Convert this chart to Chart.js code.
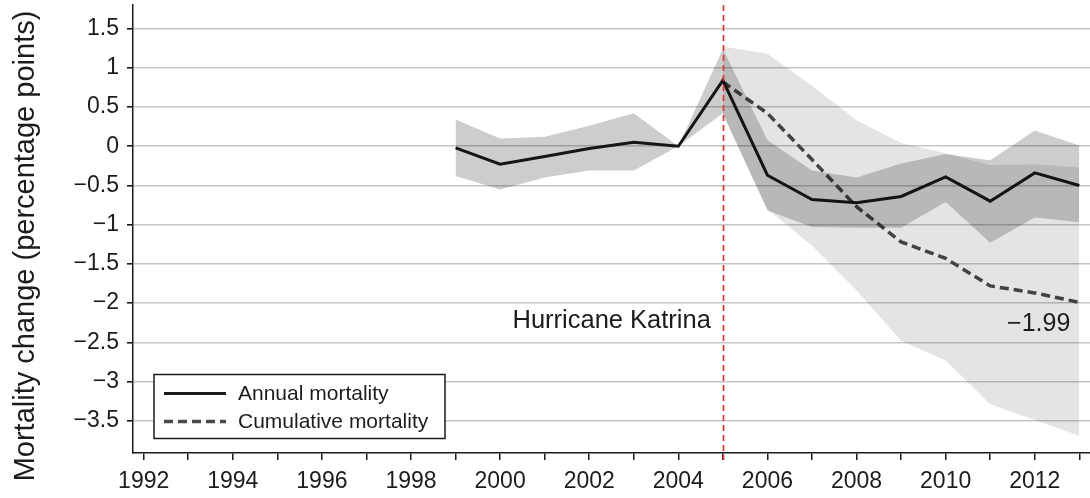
<!DOCTYPE html>
<html>
<head>
<meta charset="utf-8">
<script src="https://cdn.jsdelivr.net/npm/chart.js@4.4.1/dist/chart.umd.min.js"></script>
<style>
  html, body { margin: 0; padding: 0; background: #ffffff; }
  canvas { display: block; }
</style>
</head>
<body>
<canvas id="chart" width="1090" height="498"></canvas>
<script>
// Annual mortality change relative to 2004, with confidence band
const annualYears  = [1999, 2000, 2001, 2002, 2003, 2004, 2005, 2006, 2007, 2008, 2009, 2010, 2011, 2012, 2013];
const annualValues = [-0.02, -0.23, -0.13, -0.03, 0.05, 0.00, 0.84, -0.37, -0.68, -0.72, -0.64, -0.39, -0.70, -0.34, -0.50];
const annualUpper  = [0.34, 0.10, 0.12, 0.26, 0.42, 0.00, 1.24, 0.08, -0.31, -0.40, -0.22, -0.10, -0.18, 0.20, 0.01];
const annualLower  = [-0.38, -0.55, -0.40, -0.31, -0.31, 0.00, 0.42, -0.82, -1.03, -1.04, -1.04, -0.71, -1.23, -0.91, -0.97];

// Cumulative mortality change since Katrina, with confidence band
const cumYears  = [2005, 2006, 2007, 2008, 2009, 2010, 2011, 2012, 2013];
const cumValues = [0.82, 0.42, -0.17, -0.77, -1.22, -1.43, -1.78, -1.87, -1.99];
const cumUpper  = [1.27, 1.18, 0.77, 0.33, 0.04, -0.09, -0.24, -0.23, -0.27];
const cumLower  = [0.40, -0.80, -1.27, -1.84, -2.48, -2.73, -3.29, -3.49, -3.69];

// Axis ticks
const xTickYears  = [1992, 1993, 1994, 1995, 1996, 1997, 1998, 1999, 2000, 2001, 2002, 2003, 2004, 2005, 2006, 2007, 2008, 2009, 2010, 2011, 2012, 2013];
const xLabelYears = [1992, 1994, 1996, 1998, 2000, 2002, 2004, 2006, 2008, 2010, 2012];
const yTicks      = [-3.5, -3, -2.5, -2, -1.5, -1, -0.5, 0, 0.5, 1, 1.5];

const katrinaYear  = 2005;
const katrinaLabel = 'Hurricane Katrina';
const yTitle       = 'Mortality change (percentage points)';

const FONT = '"Liberation Sans", Arial, Helvetica, sans-serif';
const TEXT = '#1c1c1c';

const signed = v => (v < 0 ? '\u2212' : '') + String(Math.abs(v));
const pts = (xs, ys) => xs.map((x, i) => ({ x: x, y: ys[i] }));

// Keep the plot area flush with the fixed axis sizes
const noEdgePadding = s => { s.paddingTop = 0; s.paddingBottom = 0; s.paddingLeft = 0; s.paddingRight = 0; };

// Reference line, annotations, legend and the vertical axis title
const overlay = {
  id: 'overlay',
  afterDatasetsDraw(chart) {
    const { ctx, chartArea, scales } = chart;
    const x = Math.round(scales.x.getPixelForValue(katrinaYear)) + 0.5;
    ctx.save();
    ctx.strokeStyle = '#d83a34';
    ctx.lineWidth = 1.7;
    ctx.setLineDash([6, 4]);
    ctx.beginPath();
    ctx.moveTo(x, chartArea.top);
    ctx.lineTo(x, chartArea.bottom + 7);
    ctx.stroke();
    ctx.restore();
  },
  afterDraw(chart) {
    const { ctx, chartArea, scales } = chart;
    const xs = scales.x, ys = scales.y;
    ctx.save();
    ctx.fillStyle = TEXT;

    // Event label, left of the reference line
    ctx.font = '25.5px ' + FONT;
    ctx.textAlign = 'right';
    ctx.textBaseline = 'alphabetic';
    ctx.fillText(katrinaLabel, xs.getPixelForValue(katrinaYear) - 12, ys.getPixelForValue(-2.32));

    // Final cumulative value
    ctx.font = '25px ' + FONT;
    const lastIdx = cumValues.length - 1;
    ctx.fillText(signed(cumValues[lastIdx]), xs.getPixelForValue(cumYears[lastIdx]) - 9, ys.getPixelForValue(-2.35));

    // Vertical axis title
    ctx.save();
    ctx.translate(34, 246);
    ctx.rotate(-Math.PI / 2);
    ctx.textAlign = 'center';
    ctx.font = '29px ' + FONT;
    ctx.fillText(yTitle, 0, 0);
    ctx.restore();

    // Legend box
    const bx = chartArea.left + 21, by = 374.5, bw = 291, bh = 64;
    ctx.fillStyle = '#ffffff';
    ctx.fillRect(bx, by, bw, bh);
    ctx.strokeStyle = '#1a1a1a';
    ctx.lineWidth = 1.5;
    ctx.strokeRect(bx, by, bw, bh);
    const entries = [chart.data.datasets[4], chart.data.datasets[5]];
    entries.forEach((ds, i) => {
      const ly = by + 19 + i * 28;
      ctx.save();
      ctx.strokeStyle = ds.borderColor;
      ctx.lineWidth = ds.borderWidth;
      ctx.setLineDash(ds.borderDash || []);
      ctx.beginPath();
      ctx.moveTo(bx + 10, ly);
      ctx.lineTo(bx + 72, ly);
      ctx.stroke();
      ctx.restore();
      ctx.fillStyle = TEXT;
      ctx.font = '21px ' + FONT;
      ctx.textAlign = 'left';
      ctx.textBaseline = 'middle';
      ctx.fillText(ds.label, bx + 84, ly + 1);
    });
    ctx.restore();
  }
};

new Chart(document.getElementById('chart'), {
  type: 'line',
  data: {
    datasets: [
      { label: 'Annual upper', data: pts(annualYears, annualUpper), fill: '+1',
        backgroundColor: 'rgba(0,0,0,0.195)', borderWidth: 0, pointRadius: 0 },
      { label: 'Annual lower', data: pts(annualYears, annualLower), fill: false,
        borderWidth: 0, pointRadius: 0 },
      { label: 'Cumulative upper', data: pts(cumYears, cumUpper), fill: '+1',
        backgroundColor: 'rgba(0,0,0,0.105)', borderWidth: 0, pointRadius: 0 },
      { label: 'Cumulative lower', data: pts(cumYears, cumLower), fill: false,
        borderWidth: 0, pointRadius: 0 },
      { label: 'Annual mortality', data: pts(annualYears, annualValues), fill: false,
        borderColor: '#1b1b1b', borderWidth: 3, pointRadius: 0, tension: 0 },
      { label: 'Cumulative mortality', data: pts(cumYears, cumValues), fill: false,
        borderColor: '#4a4a4a', borderWidth: 3.5, borderDash: [9, 5], pointRadius: 0, tension: 0 }
    ]
  },
  options: {
    responsive: false,
    devicePixelRatio: 1,
    animation: false,
    events: [],
    layout: { padding: { top: 5, right: 0, bottom: 0, left: 0 } },
    plugins: {
      legend: { display: false },
      tooltip: { enabled: false },
      filler: { propagate: false }
    },
    scales: {
      x: {
        type: 'linear',
        min: 1991.76,
        max: 2013.24,
        afterBuildTicks: s => { s.ticks = xTickYears.map(v => ({ value: v })); },
        afterFit: s => { s.height = 45; noEdgePadding(s); },
        border: { display: true, color: '#1a1a1a', width: 1.5 },
        grid: { drawOnChartArea: false, drawTicks: true, tickLength: 7, tickColor: '#1a1a1a', lineWidth: 1.5 },
        ticks: {
          autoSkip: false, maxRotation: 0, padding: 8,
          color: TEXT, font: { family: FONT, size: 23 },
          callback: v => xLabelYears.includes(v) ? String(v) : ''
        }
      },
      y: {
        type: 'linear',
        min: -3.91,
        max: 1.80,
        afterBuildTicks: s => { s.ticks = yTicks.map(v => ({ value: v })); },
        afterFit: s => { s.width = 133; noEdgePadding(s); },
        border: { display: true, color: '#1a1a1a', width: 1.5 },
        grid: { color: '#c6c6c6', lineWidth: 1.6, drawTicks: true, tickLength: 6, tickColor: '#1a1a1a' },
        ticks: {
          padding: 8, color: TEXT, font: { family: FONT, size: 23 },
          callback: v => signed(v)
        }
      }
    }
  },
  plugins: [overlay]
});
</script>
</body>
</html>
